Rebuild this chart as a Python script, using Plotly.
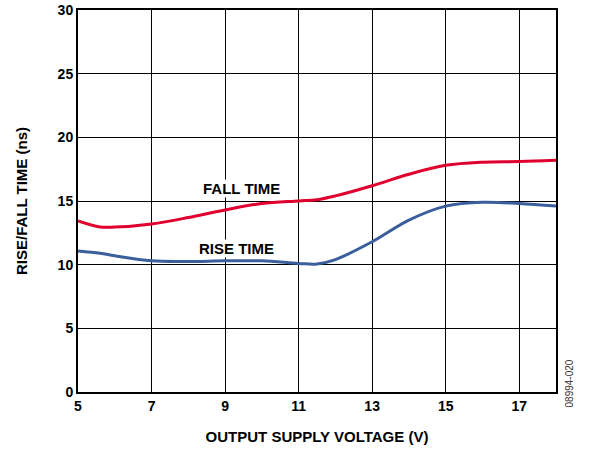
import plotly.graph_objects as go

voltage = [5, 5.6, 6, 7, 8, 9, 10, 11, 11.5, 12, 13, 14, 15, 16, 17, 18]
fall_time = [13.43, 12.96, 12.95, 13.2, 13.7, 14.3, 14.8, 15.0, 15.1, 15.4, 16.2, 17.1, 17.8, 18.05, 18.1, 18.2]
rise_time = [11.08, 10.9, 10.7, 10.3, 10.25, 10.3, 10.3, 10.1, 10.05, 10.4, 11.8, 13.5, 14.6, 14.9, 14.8, 14.6]

x_ticks = [5, 7, 9, 11, 13, 15, 17]
y_ticks = [0, 5, 10, 15, 20, 25, 30]

FONT = "Arial, Liberation Sans, sans-serif"

fig = go.Figure()
fig.add_trace(go.Scatter(x=voltage, y=fall_time, mode="lines",
                         line=dict(color="#E0002E", width=3, shape="spline", smoothing=1.0),
                         showlegend=False))
fig.add_trace(go.Scatter(x=voltage, y=rise_time, mode="lines",
                         line=dict(color="#3B5E9C", width=3, shape="spline", smoothing=1.0),
                         showlegend=False))

fig.add_annotation(x=9.46, y=16.0, text="<b>FALL TIME</b>", showarrow=False,
                   font=dict(family=FONT, size=15, color="black"), bgcolor="white", borderpad=0)
fig.add_annotation(x=9.32, y=11.3, text="<b>RISE TIME</b>", showarrow=False,
                   font=dict(family=FONT, size=15, color="black"), bgcolor="white", borderpad=0)
fig.add_annotation(xref="paper", yref="paper", x=1.044, y=-0.047, text="08994-020",
                   textangle=-90, showarrow=False, font=dict(family=FONT, size=10, color="#333"))

fig.update_xaxes(range=[5, 18], tickvals=x_ticks, ticktext=[f"<b>{v}</b>" for v in x_ticks],
                 showgrid=True, gridcolor="black", gridwidth=1,
                 showline=True, linecolor="black", linewidth=2, mirror=True,
                 ticks="", zeroline=False, automargin=False,
                 title=dict(text="<b>OUTPUT SUPPLY VOLTAGE (V)</b>", font=dict(family=FONT, size=15, color="black"), standoff=19),
                 tickfont=dict(family=FONT, size=14, color="black"))
fig.update_yaxes(range=[0, 30], tickvals=y_ticks, ticktext=[f"<b>{v}</b>" for v in y_ticks],
                 showgrid=True, gridcolor="black", gridwidth=1,
                 showline=True, linecolor="black", linewidth=2, mirror=True,
                 ticks="", zeroline=False, automargin=False,
                 title=dict(text="<b>RISE/FALL TIME (ns)</b>", font=dict(family=FONT, size=15, color="black"), standoff=26),
                 tickfont=dict(family=FONT, size=14, color="black"))

fig.update_layout(width=589, height=452, margin=dict(l=78, r=33, t=10, b=60),
                  plot_bgcolor="white", paper_bgcolor="white",
                  font=dict(family=FONT, color="black"))

fig.write_html("out.html", config={"displayModeBar": False},
               post_script="document.body.style.margin='0';")
